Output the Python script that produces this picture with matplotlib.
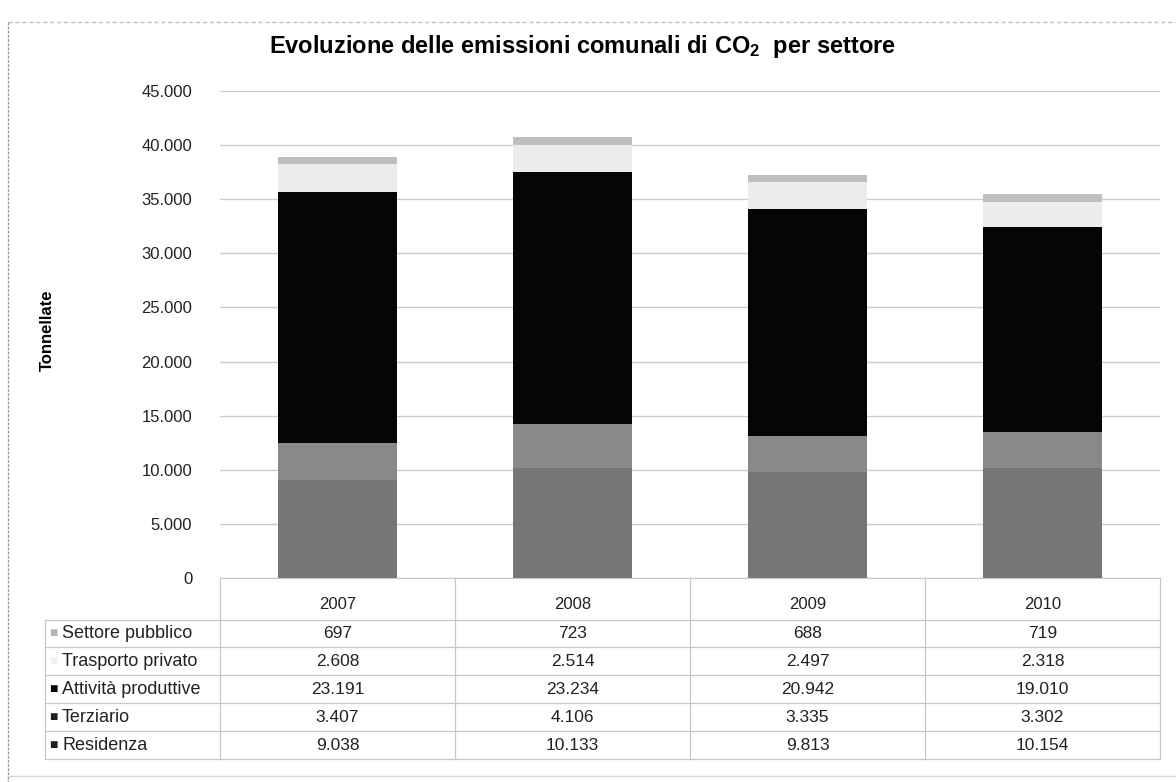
import matplotlib
matplotlib.use("Agg")
import matplotlib.pyplot as plt
from matplotlib.ticker import FuncFormatter, MultipleLocator
from matplotlib.lines import Line2D
import numpy as np

plt.rcParams['font.family'] = ['Liberation Sans', 'DejaVu Sans']
plt.rcParams['mathtext.fontset'] = 'custom'
plt.rcParams['mathtext.rm'] = 'Liberation Sans'
plt.rcParams['mathtext.bf'] = 'Liberation Sans:bold'

# ---------------- data ----------------
years = ["2007", "2008", "2009", "2010"]
residenza = [9038, 10133, 9813, 10154]
terziario = [3407, 4106, 3335, 3302]
attivita = [23191, 23234, 20942, 19010]
trasporto = [2608, 2514, 2497, 2318]
pubblico = [697, 723, 688, 719]

series_names = ["Residenza", "Terziario", "Attività produttive",
                "Trasporto privato", "Settore pubblico"]
series_vals = [residenza, terziario, attivita, trasporto, pubblico]
series_cols = ["#767676", "#898989", "#050505", "#ececec", "#bfbfbf"]
key_cols = ["#1e1e1e", "#1e1e1e", "#050505", "#f2f2f2", "#b5b5b5"]

W, H = 1176, 782
def fx(x): return x / W
def fy(y): return 1 - y / H

fig = plt.figure(figsize=(W / 100, H / 100), dpi=100)
fig.patch.set_facecolor("white")

L, R, T, B = 220, 1160, 91, 578
ax = fig.add_axes([fx(L), fy(B), (R - L) / W, (B - T) / H])

x = np.arange(len(years))
bottom = np.zeros(len(years))
for name, vals, col in zip(series_names, series_vals, series_cols):
    ax.bar(x, vals, width=0.51, bottom=bottom, color=col, label=name,
           zorder=3, linewidth=0)
    bottom += np.array(vals)

ax.set_xlim(-0.5, len(years) - 0.5)
ax.set_ylim(0, 45000)
ax.yaxis.set_major_locator(MultipleLocator(5000))
ax.yaxis.set_major_formatter(FuncFormatter(lambda v, p: f"{int(v):,}".replace(",", ".")))
ax.grid(axis="y", color="#cccccc", linewidth=1, zorder=0)
ax.set_axisbelow(True)
for s in ["top", "right", "left"]:
    ax.spines[s].set_visible(False)
ax.spines["bottom"].set_color("#c8c8c8")
ax.tick_params(axis="y", length=0, pad=20, labelsize=12, labelcolor="#222222")
ax.set_xticks(x)
ax.set_xticklabels(years)
ax.tick_params(axis="x", length=0, pad=14, labelsize=12, labelcolor="#222222")

fig.text(fx(47), fy(330), "Tonnellate", rotation=90, ha="center", va="center",
         fontsize=12, fontweight="bold")

# title
fig.text(fx(582), fy(47), r"Evoluzione delle emissioni comunali di $\mathbf{CO_2}$  per settore",
         ha="center", va="center", fontsize=17, fontweight="bold")

# ---------------- data table ----------------
lc = "#c8c8c8"
tab_left = 45
row_tops = [620, 647, 675, 703, 731, 759]
col_edges = [L + (R - L) * i / len(years) for i in range(len(years) + 1)]

def hline(y, x0, x1):
    fig.add_artist(Line2D([fx(x0), fx(x1)], [fy(y), fy(y)], color=lc, lw=0.9))

def vline(xp, y0, y1):
    fig.add_artist(Line2D([fx(xp), fx(xp)], [fy(y0), fy(y1)], color=lc, lw=0.9))

for y in row_tops:
    hline(y, tab_left, R)
vline(tab_left, row_tops[0], row_tops[-1])
for ce in col_edges:
    vline(ce, B, row_tops[-1])

# rows in table order (top to bottom)
order = [4, 3, 2, 1, 0]
for r, si in enumerate(order):
    yc = (row_tops[r] + row_tops[r + 1]) / 2
    fig.text(fx(tab_left + 4), fy(yc), "■", ha="left", va="center",
             fontsize=10, color=key_cols[si])
    fig.text(fx(tab_left + 17), fy(yc), series_names[si], ha="left", va="center",
             fontsize=13, color="#222222")
    for c, v in enumerate(series_vals[si]):
        xc = (col_edges[c] + col_edges[c + 1]) / 2
        fig.text(fx(xc), fy(yc), f"{v:,}".replace(",", "."), ha="center",
                 va="center", fontsize=12.5, color="#222222")

# chart area border (left and top)
fig.add_artist(Line2D([fx(8), fx(8)], [fy(22), fy(782)], color="#9a9a9a", lw=1, ls=(0, (2, 1))))
fig.add_artist(Line2D([fx(8), fx(1176)], [fy(22), fy(22)], color="#c0c0c0", lw=1, ls=(0, (3, 2))))
fig.add_artist(Line2D([fx(8), fx(1176)], [fy(776), fy(776)], color="#d8d8d8", lw=1))

fig.savefig("out.png", dpi=100)
